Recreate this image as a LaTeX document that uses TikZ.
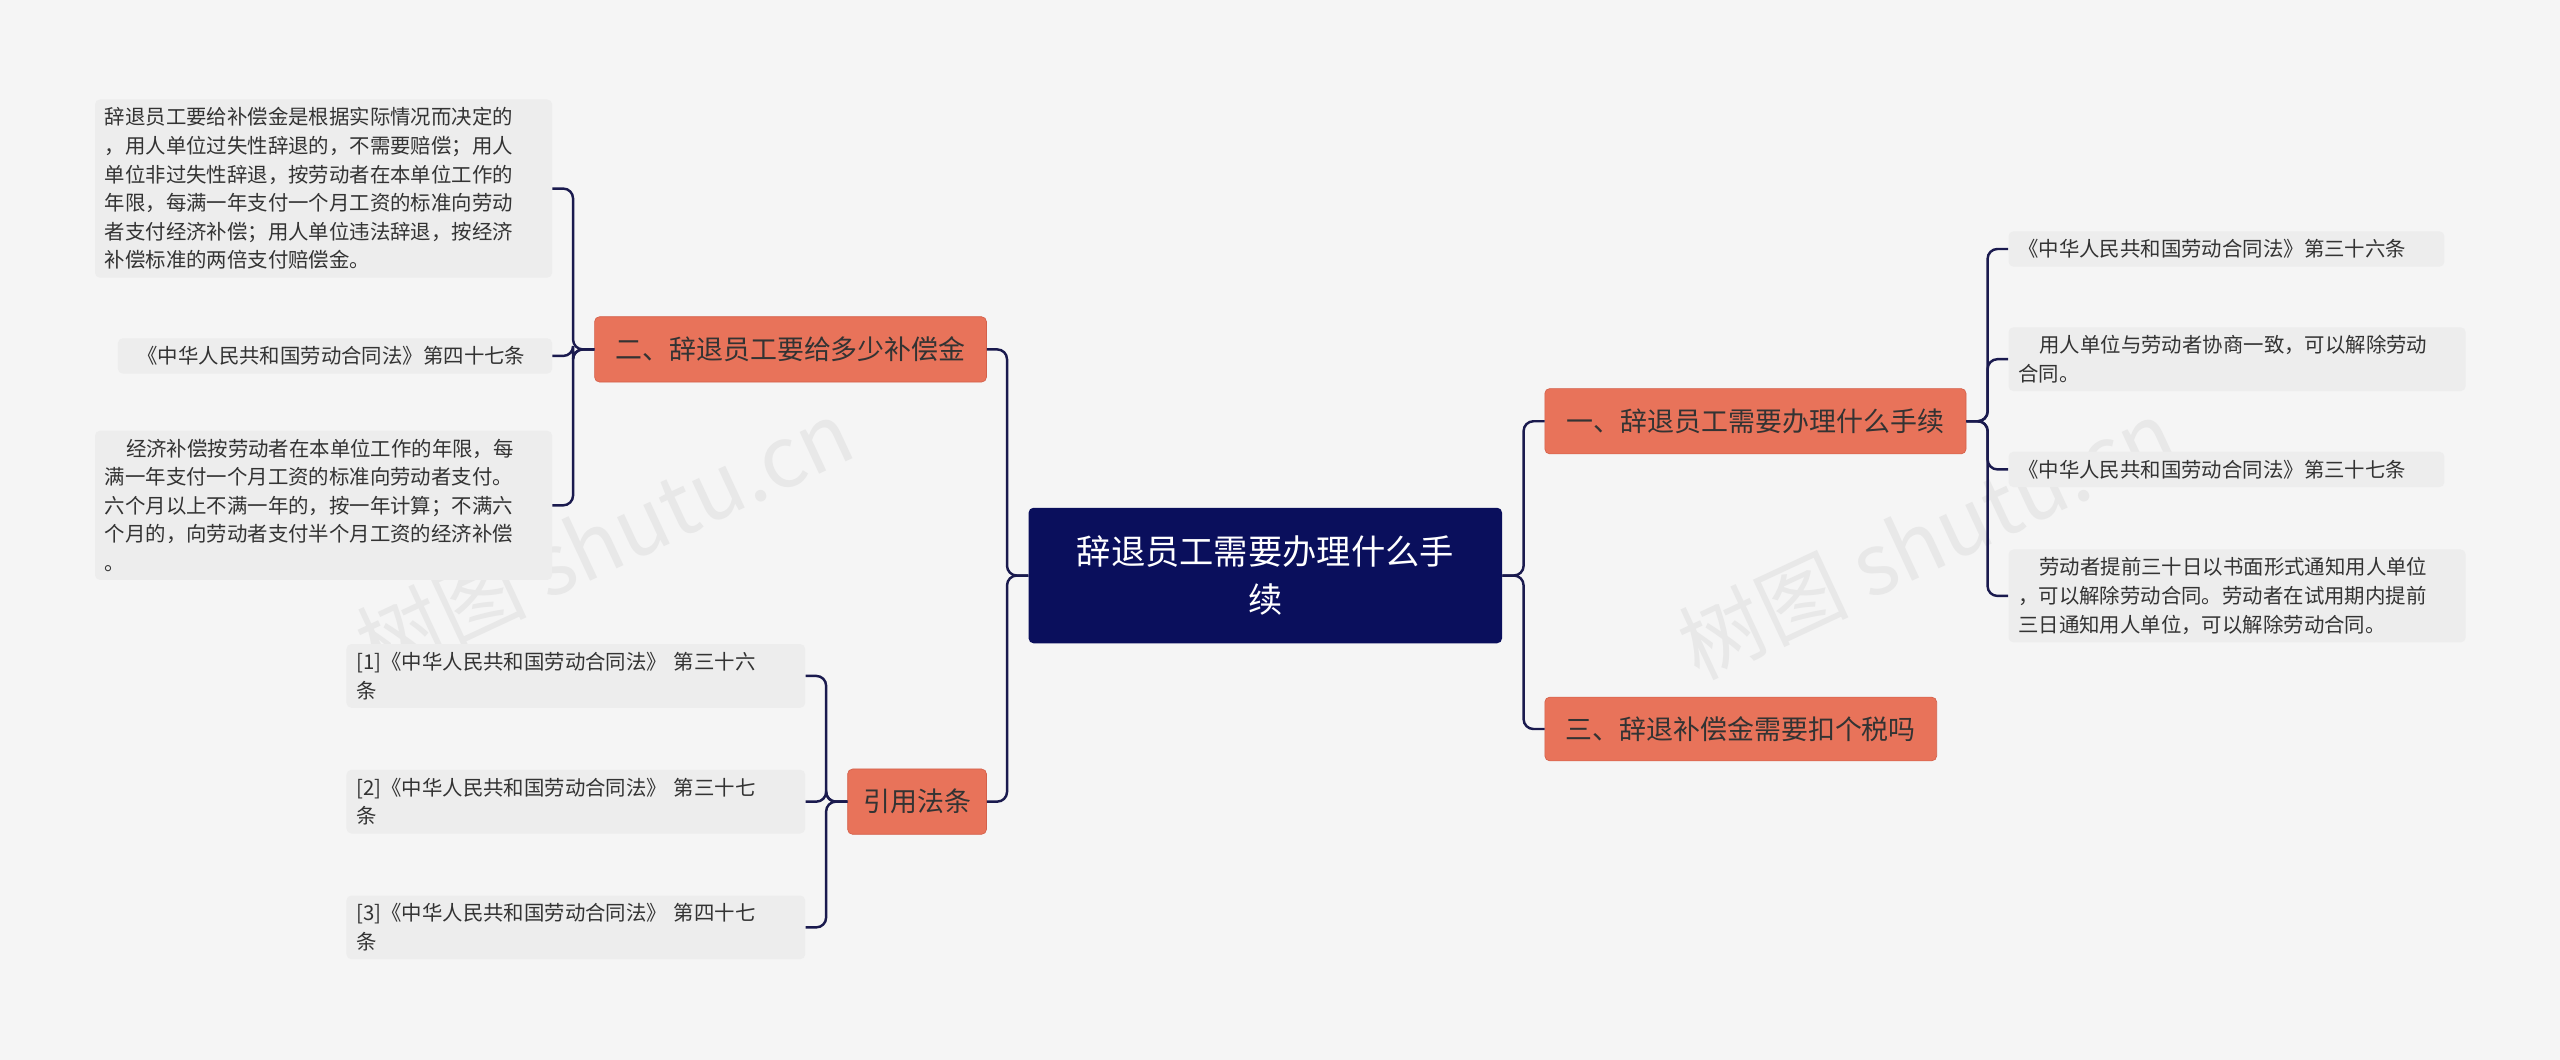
\documentclass[tikz,border=0pt]{standalone}
\usepackage{fontspec}
\setmainfont{Noto Sans CJK SC}
\usetikzlibrary{positioning}
\definecolor{bg}{HTML}{F5F5F5}
\definecolor{navy}{HTML}{0A0F5C}
\definecolor{org}{HTML}{E8735A}
\definecolor{orgd}{HTML}{D4604A}
\definecolor{leafbg}{HTML}{EDEDED}
\definecolor{line}{HTML}{1A1A4E}
\definecolor{txt}{HTML}{333333}
\tikzset{
 root/.style={fill=navy,rounded corners=3pt,text=white,align=center,font=\fontsize{21}{29}\selectfont,inner sep=0pt},
 branch/.style={fill=org,draw=orgd,rounded corners=3pt,text=txt,font=\fontsize{16.5}{20}\selectfont,inner sep=0pt,anchor=west},
 leaf/.style={fill=leafbg,rounded corners=3pt,text=txt,align=left,font=\fontsize{12.5}{17.5}\selectfont,inner xsep=6pt,inner ysep=5pt,anchor=west},
 conn/.style={draw=line,line width=1.5pt,rounded corners=6pt},
 wm/.style={text=black!9,font=\fontsize{52}{52}\selectfont,rotate=25}
}
\begin{document}
\begin{tikzpicture}[x=1pt,y=-1pt]
\fill[bg] (0,0) rectangle (1568,649);
\useasboundingbox (0,0) rectangle (1568,649);
\node[wm] (w1) at (370,330) {树图 shutu.cn};
\node[wm] (w2) at (1180,330) {树图 shutu.cn};

\node[root,minimum width=290,minimum height=83] (c) at (775,352.5) {辞退员工需要办理什么手\\续};

\node[branch,minimum width=240,minimum height=40] (b2) at (364,214) {二、辞退员工要给多少补偿金};
\node[branch,minimum width=85,minimum height=40] (b4) at (519,491) {引用法条};
\node[branch,minimum width=258,minimum height=40] (b1) at (946,258) {一、辞退员工需要办理什么手续};
\node[branch,minimum width=240,minimum height=39] (b3) at (946,446.5) {三、辞退补偿金需要扣个税吗};

\node[leaf,text width=268] (l1) at (58,115.5) {辞退员工要给补偿金是根据实际情况而决定的\\，用人单位过失性辞退的，不需要赔偿；用人\\单位非过失性辞退，按劳动者在本单位工作的\\年限，每满一年支付一个月工资的标准向劳动\\者支付经济补偿；用人单位违法辞退，按经济\\补偿标准的两倍支付赔偿金。};
\node[leaf,text width=254] (l2) at (72,218) {\hspace*{6pt}《中华人民共和国劳动合同法》第四十七条};
\node[leaf,text width=268] (l3) at (58,309.5) {\hspace*{13pt}经济补偿按劳动者在本单位工作的年限，每\\满一年支付一个月工资的标准向劳动者支付。\\六个月以上不满一年的，按一年计算；不满六\\个月的，向劳动者支付半个月工资的经济补偿\\。};

\node[leaf,text width=269] (r1) at (212,414) {[1]《中华人民共和国劳动合同法》 第三十六\\条};
\node[leaf,text width=269] (r2) at (212,491) {[2]《中华人民共和国劳动合同法》 第三十七\\条};
\node[leaf,text width=269] (r3) at (212,568) {[3]《中华人民共和国劳动合同法》 第四十七\\条};

\node[leaf,text width=255] (k1) at (1230,152.5) {《中华人民共和国劳动合同法》第三十六条};
\node[leaf,text width=268] (k2) at (1230,220) {\hspace*{13pt}用人单位与劳动者协商一致，可以解除劳动\\合同。};
\node[leaf,text width=255] (k3) at (1230,287.5) {《中华人民共和国劳动合同法》第三十七条};
\node[leaf,text width=268] (k4) at (1230,365) {\hspace*{13pt}劳动者提前三十日以书面形式通知用人单位\\，可以解除劳动合同。劳动者在试用期内提前\\三日通知用人单位，可以解除劳动合同。};

\foreach \ch in {b2,b4} \draw[conn] (c.west) -- ++(-13,0) |- (\ch.east);
\foreach \ch in {b1,b3} \draw[conn] (c.east) -- ++(13,0) |- (\ch.west);
\foreach \ch in {l1,l2,l3} \draw[conn] (b2.west) -- ++(-13,0) |- (\ch.east);
\foreach \ch in {r1,r2,r3} \draw[conn] (b4.west) -- ++(-13,0) |- (\ch.east);
\foreach \ch in {k1,k2,k3,k4} \draw[conn] (b1.east) -- ++(13,0) |- (\ch.west);
\end{tikzpicture}
\end{document}
